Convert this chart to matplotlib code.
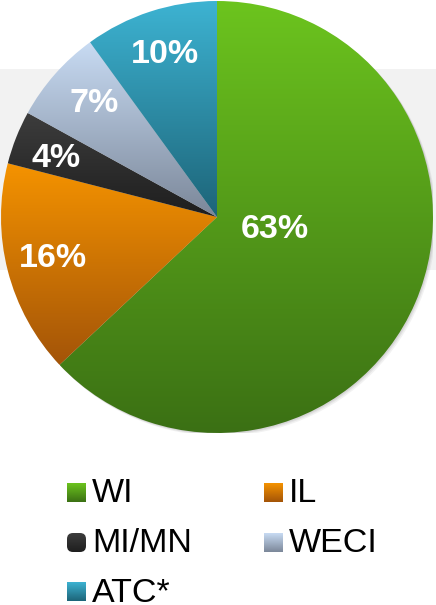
import numpy as np
import matplotlib
matplotlib.use("Agg")
import matplotlib.pyplot as plt
from matplotlib.colors import LinearSegmentedColormap
from matplotlib.patches import Rectangle, FancyBboxPatch, Circle

# ---- data ----
categories = ["WI", "IL", "MI/MN", "WECI", "ATC*"]
values = [63, 16, 4, 7, 10]
pct_labels = [f"{v}%" for v in values]

# ---- style ----
top_colors = ["#6cc41e", "#f59300", "#3d3d3d", "#c8dbf3", "#3db3d2"]
bottom_colors = ["#3b7014", "#a35408", "#1e1e1e", "#7b8799", "#1d6478"]
label_pos = [(0.269, -0.097), (-0.759, -0.231), (-0.745, 0.231),
             (-0.569, 0.486), (-0.241, 0.713)]
legend_pos = [(67, 483), (264, 483), (67, 533), (264, 533), (67, 582)]
legend_round = [False, False, True, False, False]

W, H = 436, 605
fig = plt.figure(figsize=(W / 100, H / 100), dpi=100)
fig.patch.set_facecolor("white")

bg = fig.add_axes([0, 0, 1, 1], zorder=0)
bg.axis("off")
bg.add_patch(Rectangle((0, 69), W, 201, facecolor="#f2f2f2", edgecolor="none"))

cx, cy, r = 217, 217, 216
ax = fig.add_axes([(cx - r) / W, (H - cy - r) / H, 2 * r / W, 2 * r / H], zorder=1)
ax.patch.set_alpha(0)

# soft shadow
for k, a in [(0.014, 0.10), (0.009, 0.12), (0.005, 0.15)]:
    ax.add_patch(Circle((k, -k), 1.0, facecolor="#808080", alpha=a,
                        edgecolor="none", zorder=0))

wedges, _ = ax.pie(values, startangle=90, counterclock=False, radius=1,
                   wedgeprops=dict(linewidth=0))
grad = np.linspace(0, 1, 256).reshape(-1, 1)
for w, c0, c1 in zip(wedges, top_colors, bottom_colors):
    ext = w.get_path().get_extents()
    cmap = LinearSegmentedColormap.from_list("g", [c1, c0])
    im = ax.imshow(grad, cmap=cmap, extent=(ext.x0, ext.x1, ext.y0, ext.y1),
                   origin="lower", aspect="auto", zorder=2, interpolation="bilinear")
    im.set_clip_path(w)
    w.set_facecolor("none")

for (x, y), t in zip(label_pos, pct_labels):
    ax.text(x, y, t, ha="center", va="baseline", color="white", fontsize=24.5,
            fontweight="bold", family="Liberation Sans", zorder=5)

ax.set_xlim(-1, 1)
ax.set_ylim(-1, 1)
ax.set_aspect("equal")
ax.axis("off")

# ---- legend ----
sq = 19
for (x, y), name, c0, c1, rnd in zip(legend_pos, categories, top_colors,
                                      bottom_colors, legend_round):
    cmap = LinearSegmentedColormap.from_list("g", [c1, c0])
    im = bg.imshow(grad, cmap=cmap, extent=(x, x + sq, y + sq, y), origin="lower",
                   aspect="auto", interpolation="bilinear", zorder=2)
    if rnd:
        clip = FancyBboxPatch((x, y), sq, sq, boxstyle="round,pad=0,rounding_size=6",
                              facecolor="none", edgecolor="none")
    else:
        clip = Rectangle((x, y), sq, sq, facecolor="none", edgecolor="none")
    bg.add_patch(clip)
    im.set_clip_path(clip)
    bg.text(x + 25, y + sq + 0.5, name, va="baseline", ha="left", fontsize=24.5,
            family="Liberation Sans", color="black", zorder=3)

bg.set_xlim(0, W)
bg.set_ylim(H, 0)

fig.savefig("out.png", dpi=100)
